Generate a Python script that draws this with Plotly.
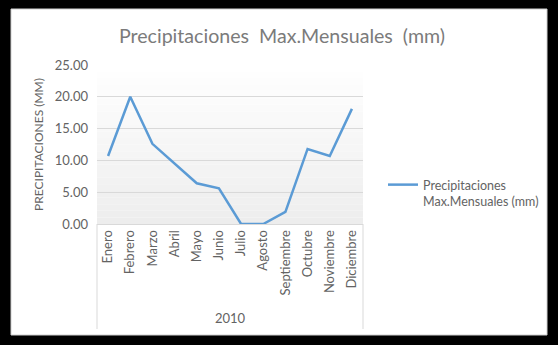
import plotly.graph_objects as go

# Monthly maximum rainfall (mm), 2010
meses = ["Enero", "Febrero", "Marzo", "Abril", "Mayo", "Junio", "Julio",
         "Agosto", "Septiembre", "Octubre", "Noviembre", "Diciembre"]
precipitacion = [10.7, 20.0, 12.6, 9.5, 6.4, 5.6, 0.0, 0.0, 1.9, 11.8, 10.7, 18.1]
anio = "2010"
y_ticks = [0, 5, 10, 15, 20, 25]

W, H = 558, 345
L, R, T, B = 97, 195, 65, 121
pw, ph = W - L - R, H - T - B

def px_x(x):
    return (x - L) / pw

def px_y(y):
    return (H - B - y) / ph

FONT = "Lato"
GRAY = "#636363"
TITLE_GRAY = "#7b7b7b"
GRID = "#d9d9d9"

fig = go.Figure()
fig.add_trace(go.Scatter(
    x=list(range(len(meses))), y=precipitacion, mode="lines",
    name="Precipitaciones<br>Max.Mensuales (mm)",
    line=dict(color="#5b9bd5", width=2.5),
))

shapes = [
    # white card inside the black frame
    dict(type="rect", xref="paper", yref="paper", layer="below",
         x0=px_x(11), x1=px_x(547), y0=px_y(335), y1=px_y(9),
         fillcolor="white", line=dict(color="#cfcfcf", width=1)),
]
# soft vertical gradient in the plot area
n = 24
for i in range(n):
    t = (i + 0.5) / n
    c = int(round(255 - 18 * t))
    shapes.append(dict(type="rect", xref="paper", yref="paper", layer="below",
                       x0=0, x1=1, y0=1 - (i + 1) / n, y1=1 - i / n,
                       fillcolor=f"rgb({c},{c},{c})", line=dict(width=0)))
# category group box lines
for xp in (0, 1):
    shapes.append(dict(type="line", xref="paper", yref="paper",
                       x0=xp, x1=xp, y0=0, y1=px_y(329),
                       line=dict(color=GRID, width=1)))

fig.update_layout(
    width=W, height=H,
    margin=dict(l=L, r=R, t=T, b=B),
    paper_bgcolor="black",
    plot_bgcolor="rgba(0,0,0,0)",
    shapes=shapes,
    font=dict(family=FONT, color=GRAY),
    title=dict(text="Precipitaciones\u00a0 Max.Mensuales\u00a0 (mm)",
               x=282 / W, xanchor="center", xref="container",
               y=1 - 36 / H, yanchor="middle", yref="container",
               font=dict(family=FONT, size=19.6, color=TITLE_GRAY)),
    xaxis=dict(
        tickmode="array", tickvals=list(range(len(meses))), ticktext=meses,
        range=[-0.5, len(meses) - 0.5], tickangle=-90,
        tickfont=dict(size=13, color=GRAY, family=FONT),
        showgrid=False, zeroline=False, showline=True, linecolor=GRID,
        linewidth=1, ticks="", fixedrange=True,
    ),
    yaxis=dict(
        range=[0, 25], tickvals=y_ticks, tickformat=".2f",
        tickfont=dict(size=13, color=GRAY, family=FONT),
        showgrid=True, gridcolor=GRID, gridwidth=1, zeroline=False,
        showline=False, ticks="", ticklabelstandoff=8,
        title=dict(text="PRECIPITACIONES (MM)", standoff=8,
                   font=dict(size=12, color=GRAY, family=FONT)),
    ),
    showlegend=True,
    legend=dict(x=px_x(383), y=px_y(170), xanchor="left", yanchor="top",
                valign="top", bgcolor="rgba(0,0,0,0)", itemwidth=30,
                font=dict(size=12.5, color=GRAY, family=FONT)),
    annotations=[dict(text=anio, xref="paper", yref="paper",
                      x=0.5, y=px_y(318), xanchor="center", yanchor="middle",
                      showarrow=False, font=dict(size=13, color=GRAY, family=FONT))],
)

fig.write_html("out.html")
